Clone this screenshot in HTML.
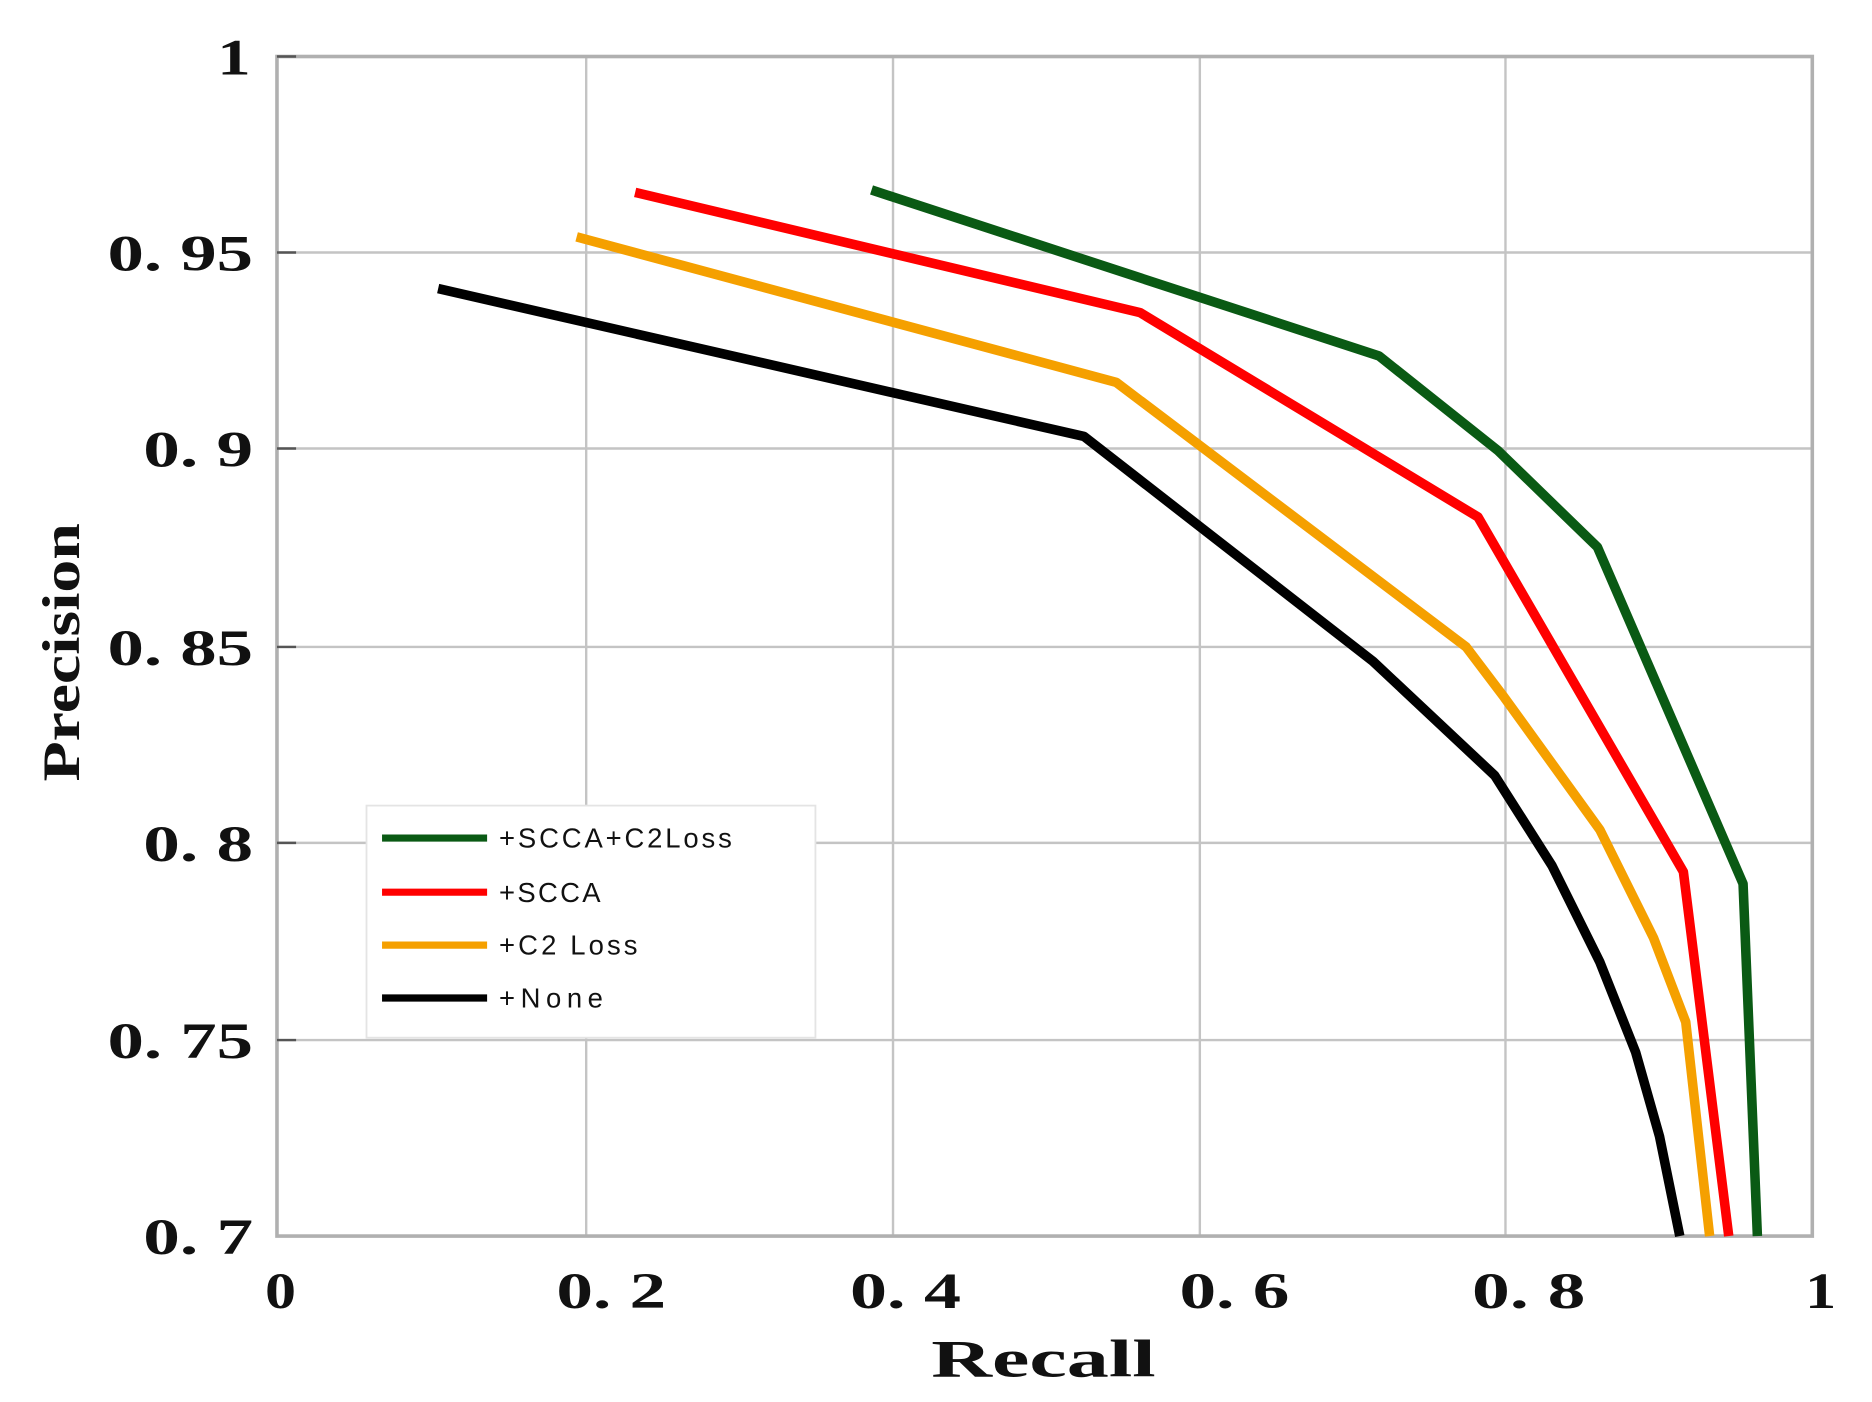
<!DOCTYPE html>
<html><head><meta charset="utf-8"><style>html,body{margin:0;padding:0;background:#fff}svg{display:block}</style></head>
<body>
<svg width="1872" height="1402" viewBox="0 0 1568 1166" preserveAspectRatio="none" xmlns="http://www.w3.org/2000/svg">
<rect width="1568" height="1166" fill="#fff"/>
<g stroke="#c4c4c4" stroke-width="2">
<line x1="491" y1="47" x2="491" y2="1028"/>
<line x1="748" y1="47" x2="748" y2="1028"/>
<line x1="1005" y1="47" x2="1005" y2="1028"/>
<line x1="1261" y1="47" x2="1261" y2="1028"/>
<line x1="232" y1="210" x2="1518" y2="210"/>
<line x1="232" y1="373" x2="1518" y2="373"/>
<line x1="232" y1="538" x2="1518" y2="538"/>
<line x1="232" y1="701" x2="1518" y2="701"/>
<line x1="232" y1="865" x2="1518" y2="865"/>
</g>
<rect x="232" y="47" width="1286" height="981" fill="none" stroke="#b0b0b0" stroke-width="3"/>
<g stroke="#555" stroke-width="2">
<line x1="232" y1="47" x2="248" y2="47"/><line x1="232" y1="210" x2="248" y2="210"/><line x1="232" y1="373" x2="248" y2="373"/><line x1="232" y1="538" x2="248" y2="538"/><line x1="232" y1="701" x2="248" y2="701"/><line x1="232" y1="865" x2="248" y2="865"/>
</g>
<g font-family="Liberation Serif, serif" font-weight="bold" font-size="42" fill="#111" lengthAdjust="spacingAndGlyphs">
<text x="182" y="62" textLength="28" lengthAdjust="spacingAndGlyphs">1</text>
<text x="90" y="225" textLength="122" lengthAdjust="spacingAndGlyphs">0. 95</text>
<text x="120" y="388" textLength="92" lengthAdjust="spacingAndGlyphs">0. 9</text>
<text x="90" y="553" textLength="122" lengthAdjust="spacingAndGlyphs">0. 85</text>
<text x="120" y="716" textLength="92" lengthAdjust="spacingAndGlyphs">0. 8</text>
<text x="90" y="880" textLength="122" lengthAdjust="spacingAndGlyphs">0. 75</text>
<text x="120" y="1043" textLength="92" lengthAdjust="spacingAndGlyphs">0. 7</text>
<text x="222" y="1088" textLength="26" lengthAdjust="spacingAndGlyphs">0</text>
<text x="466" y="1088" textLength="92" lengthAdjust="spacingAndGlyphs">0. 2</text>
<text x="712" y="1088" textLength="93" lengthAdjust="spacingAndGlyphs">0. 4</text>
<text x="988" y="1088" textLength="92" lengthAdjust="spacingAndGlyphs">0. 6</text>
<text x="1233" y="1088" textLength="95" lengthAdjust="spacingAndGlyphs">0. 8</text>
<text x="1512" y="1088" textLength="26" lengthAdjust="spacingAndGlyphs">1</text>
<text x="780" y="1145" font-size="44" textLength="188" lengthAdjust="spacingAndGlyphs">Recall</text>
<text transform="translate(66,650) rotate(-90)" font-size="44" textLength="215" lengthAdjust="spacingAndGlyphs">Precision</text>
</g>
<g fill="none" stroke-width="8" stroke-linejoin="round">
<polyline stroke="#000" points="367,240 908,363 1150,550 1252,645 1300,720 1340,800 1370,875 1390,945 1407,1028"/>
<polyline stroke="#f5a000" points="483,197 935,318 1228,538 1260,580 1340,690 1385,780 1412,850 1432,1028"/>
<polyline stroke="#ff0000" points="532,160 955,260 1238,430 1410,725 1448,1028"/>
<polyline stroke="#0a5a14" points="730,158 1155,296 1255,375 1338,455 1460,735 1472,1028"/>
</g>
<rect x="307" y="670" width="376" height="193" fill="#fff" stroke="#e4e4e4" stroke-width="1.5"/>
<g stroke-width="6">
<line x1="320" y1="697" x2="408" y2="697" stroke="#0a5a14"/>
<line x1="320" y1="742" x2="408" y2="742" stroke="#ff0000"/>
<line x1="320" y1="786" x2="408" y2="786" stroke="#f5a000"/>
<line x1="320" y1="830" x2="408" y2="830" stroke="#000"/>
</g>
<g font-family="Liberation Sans, sans-serif" font-size="23" fill="#111">
<text x="418" y="705" textLength="195" lengthAdjust="spacing">+SCCA+C2Loss</text>
<text x="418" y="750" textLength="85" lengthAdjust="spacing">+SCCA</text>
<text x="418" y="794" textLength="116" lengthAdjust="spacing">+C2 Loss</text>
<text x="418" y="838" textLength="87" lengthAdjust="spacing">+None</text>
</g>
</svg>
</body></html>
